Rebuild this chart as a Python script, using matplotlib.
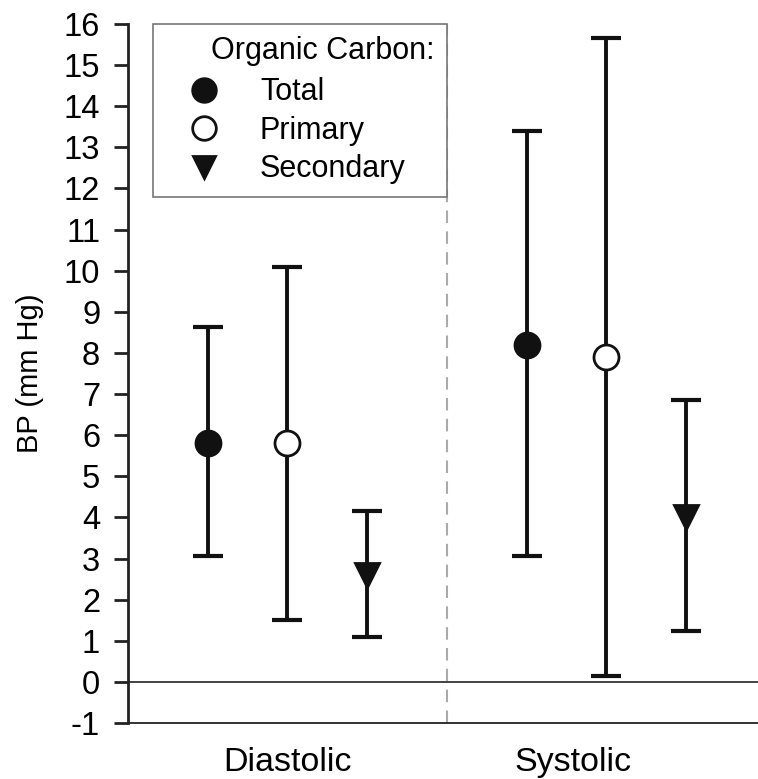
import matplotlib
matplotlib.use("Agg")
import matplotlib.pyplot as plt
from matplotlib.lines import Line2D

plt.rcParams['font.family'] = ['Liberation Sans', 'DejaVu Sans']

# Data
groups = ["Diastolic", "Systolic"]
series = ["Total", "Primary", "Secondary"]
x_diastolic = [1, 2, 3]
x_systolic = [5, 6, 7]
mean_diastolic = [5.82, 5.81, 2.60]
low_diastolic = [3.05, 1.51, 1.09]
high_diastolic = [8.62, 10.10, 4.16]
mean_systolic = [8.20, 7.90, 4.02]
low_systolic = [3.05, 0.15, 1.24]
high_systolic = [13.39, 15.67, 6.86]
group_tick_pos = [2, 5.58]
yticks = list(range(-1, 17))

markers = ['o', 'o', 'v']
faces = ['#111111', 'white', '#111111']
msizes = [18, 18, 17]

fig = plt.figure(figsize=(7.58, 7.79), dpi=100)
ax = fig.add_axes([128/758, 56/779, 630/758, 699/779])

xs_all = [x_diastolic, x_systolic]
means_all = [mean_diastolic, mean_systolic]
lows_all = [low_diastolic, low_systolic]
highs_all = [high_diastolic, high_systolic]

for g in range(2):
    for i in range(3):
        x = xs_all[g][i]
        m = means_all[g][i]
        lo = lows_all[g][i]
        hi = highs_all[g][i]
        ax.errorbar([x], [m], yerr=[[m - lo], [hi - m]], fmt='none',
                    ecolor='#111111', elinewidth=2.8, capsize=11, capthick=3, zorder=3)
        ax.plot([x], [m], marker=markers[i], markersize=msizes[i],
                markerfacecolor=faces[i], markeredgecolor='#111111',
                markeredgewidth=2, linestyle='none', zorder=4)

ax.axhline(0, color='#222222', lw=1.2, zorder=2)
ax.axvline(4, color='#aaaaaa', lw=1.5, ls=(0, (6, 4)), zorder=1)

ax.set_xlim(0, 7.9)
ax.set_ylim(-1, 16)
ax.set_yticks(yticks)
ax.set_yticklabels([str(t) for t in yticks], fontsize=23.5)
ax.set_xticks(group_tick_pos)
ax.set_xticklabels(groups, fontsize=24.5)
ax.tick_params(axis='x', length=0, pad=17)
ax.tick_params(axis='y', length=10, width=2, pad=10, color='#222222')
ax.set_ylabel("BP (mm Hg)", fontsize=21, labelpad=14)

ax.spines['top'].set_visible(False)
ax.spines['right'].set_visible(False)
ax.spines['left'].set_linewidth(2)
ax.spines['left'].set_color('#222222')
ax.spines['bottom'].set_linewidth(1.3)
ax.spines['bottom'].set_color('#222222')

handles = [Line2D([], [], marker=markers[i], markersize=msizes[i] - 1,
                  markerfacecolor=faces[i], markeredgecolor='#111111',
                  markeredgewidth=2, linestyle='none') for i in range(3)]
leg = ax.legend(handles, series, title="Organic Carbon:", loc='upper left',
                bbox_to_anchor=(0.0397, 1.0, 0.4667, 0.0), mode='expand',
                fontsize=22, title_fontsize=22, frameon=True, fancybox=False,
                edgecolor='#777777', framealpha=1, handletextpad=0.57,
                labelspacing=0.28, borderpad=0.4, handlelength=2.53,
                borderaxespad=0, alignment='right')
leg._legend_box.sep = 8
leg.get_frame().set_linewidth(1.2)

fig.savefig("out.png", dpi=100)
